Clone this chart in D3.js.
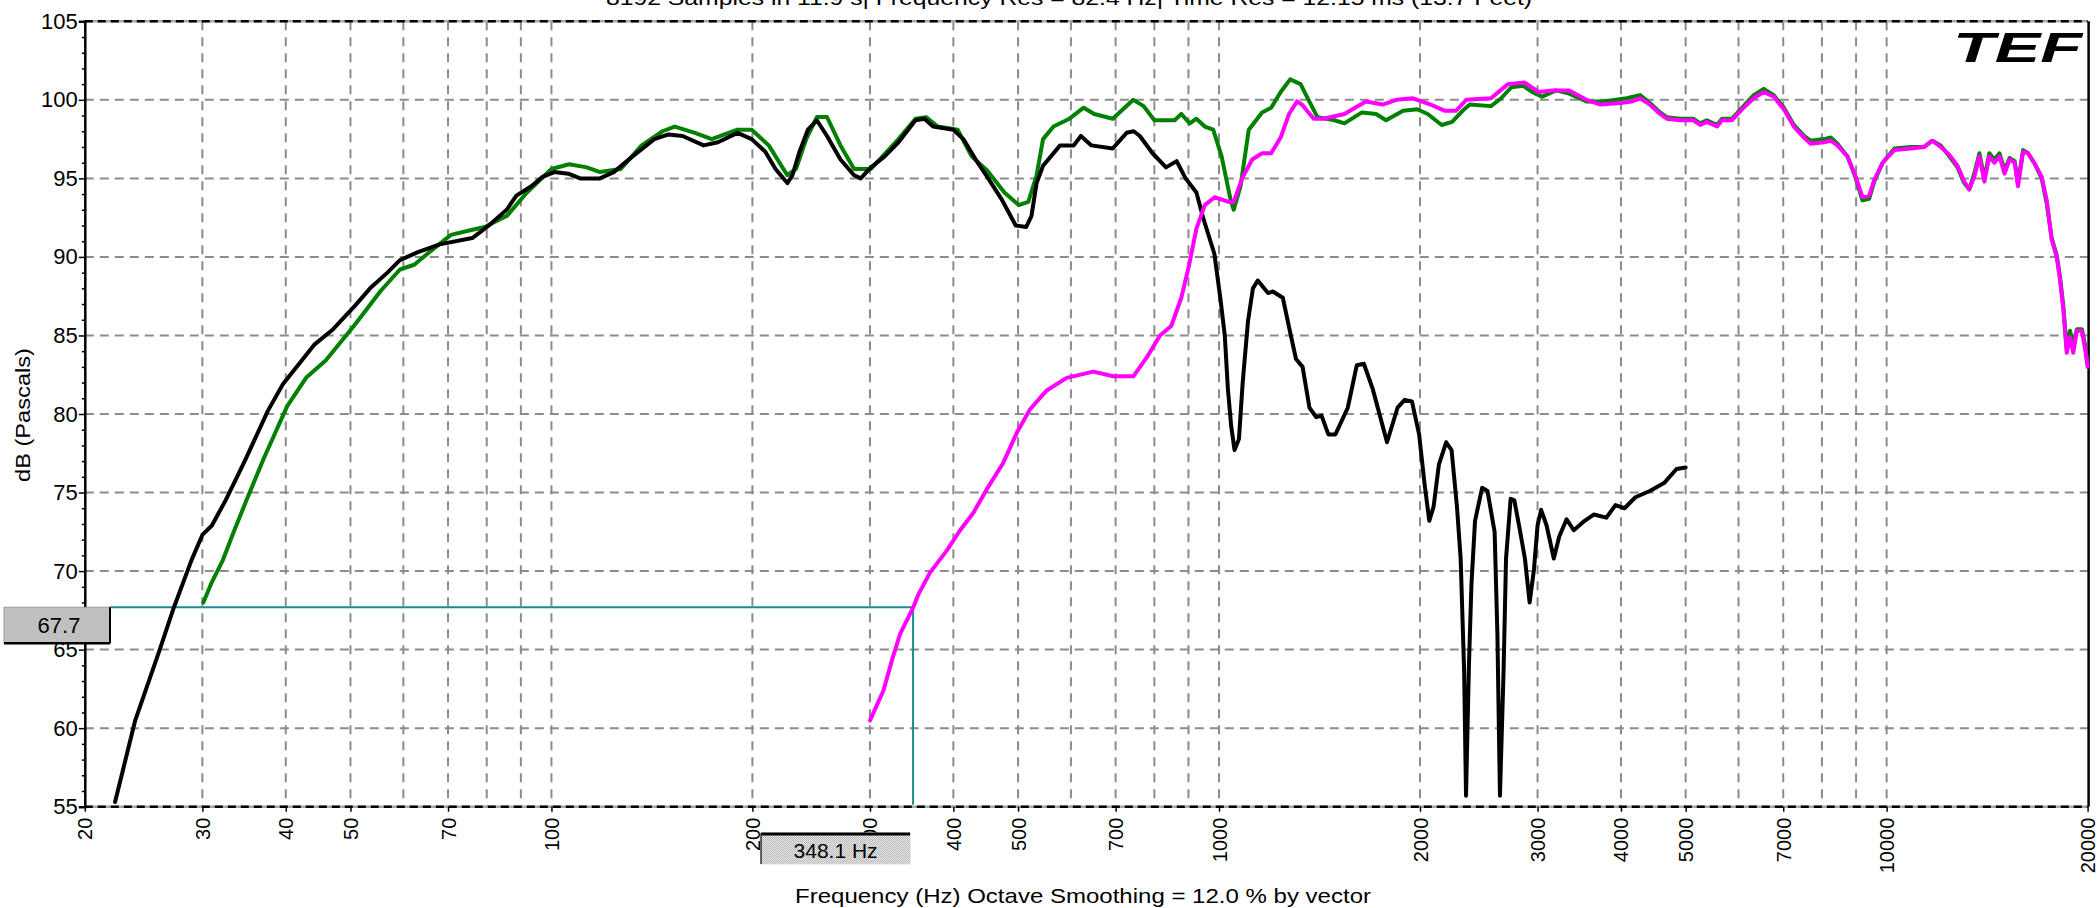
<!DOCTYPE html>
<html><head><meta charset="utf-8">
<script src="https://cdn.jsdelivr.net/npm/d3@7/dist/d3.min.js"></script>
<style>
body{margin:0;background:#fff;}
svg{display:block;}
text{font-family:"Liberation Sans",Arial,sans-serif;fill:#000;}
</style></head><body>
<svg id="c" width="2098" height="908"></svg>
<script>
// ---------- data ----------
const xTickValues=[20,30,40,50,70,100,200,300,400,500,700,1000,2000,3000,4000,5000,7000,10000,20000];
const xGridValues=[30,40,50,60,70,80,90,100,200,300,400,500,600,700,800,900,1000,2000,3000,4000,5000,6000,7000,8000,9000,10000];
const yTickValues=[55,60,65,70,75,80,85,90,95,100,105];
const yMinorValues=[56,57,58,59,61,62,63,64,66,67,68,69,71,72,73,74,76,77,78,79,81,82,83,84,86,87,88,89,91,92,93,94,96,97,98,99,101,102,103,104];

const blackFreq=[22.2,23.8,25.9,27.2,28.9,30,31,32.5,34,34.9,37.6,39.6,44.1,47.1,50.8,53.5,56.8,59.3,63.1,68,76.1,80.6,85.7,88.6,93.3,97,101,106,110.4,118.2,124,132.3,142.6,149.8,157.2,169,177.6,190,199.5,209.1,216.6,225.6,229.6,235.3,242.2,249.8,258.7,271,284,290.6,301,315.6,331,351,362,373,400,414,435,449.5,472,496,514,523.6,533,545,578,606,621,644,693,727,745,761,795,833,864,891,925,948,984,1005,1020,1031,1043,1055,1071,1085,1105,1124,1143,1184,1204,1246,1275,1304,1334,1366,1398,1424,1458,1494,1559,1608,1648,1699,1785,1851,1897,1945,1994,2031,2065,2096,2135,2189,2230,2272,2301,2329,2344,2368,2388,2418,2478,2524,2587,2612,2635,2668,2691,2734,2769,2820,2872,2919,2963,3000,3037,3095,3173,3233,3316,3399,3529,3641,3804,3925,4049,4204,4418,4641,4845,5000];
const blackDb=[55.3,60.5,65.0,67.7,70.7,72.3,72.9,74.5,76.2,77.2,80.2,81.9,84.4,85.4,86.9,88.0,89.0,89.8,90.3,90.8,91.2,92.0,93.0,93.9,94.5,95.1,95.4,95.3,95.0,95.0,95.4,96.4,97.5,97.8,97.7,97.1,97.3,97.9,97.5,96.7,95.6,94.7,95.2,96.7,98.1,98.7,97.7,96.2,95.2,95.0,95.7,96.4,97.3,98.7,98.8,98.3,98.1,97.5,96.0,95.1,93.7,92.0,91.9,92.6,94.7,95.8,97.1,97.1,97.7,97.1,96.9,97.9,98.0,97.7,96.6,95.7,96.1,95.0,94.1,92.4,90.2,87.3,85.0,81.6,79.2,77.7,78.4,82.0,85.9,88.0,88.5,87.7,87.8,87.4,85.4,83.5,83.0,80.4,79.8,79.9,78.7,78.7,80.4,83.1,83.2,81.6,78.2,80.4,80.9,80.8,78.7,75.6,73.2,74.1,76.8,78.2,77.7,74.1,70.8,63.6,55.7,64.1,69.1,73.2,75.3,75.1,72.5,66.0,55.7,63.6,70.8,74.6,74.5,72.7,70.8,68.0,70.1,72.9,73.9,72.9,70.8,72.2,73.3,72.6,73.2,73.6,73.4,74.2,74.0,74.7,75.1,75.6,76.5,76.6];

const greenFreq=[30.1,31,32.2,33.5,35,37.1,40.2,42.9,45.9,50.8,55.4,59.3,62.3,65.2,70.7,75.6,79.4,85.7,91.9,100,106.3,113,118.2,127,136.5,146.7,153,164,173.8,190,199.5,211.6,225.6,232.5,240.8,249.8,258.7,271,284,301,331,351,364,379,406,426,449.5,477,501,518,533,545,565,597,627,650,693,744,771,800,858,878,904,925,952,980,1009,1040,1052,1077,1108,1160,1197,1237,1278,1325,1365,1404,1489,1541,1637,1719,1779,1887,1981,2054,2155,2234,2316,2375,2555,2646,2740,2855,2942,3048,3195,3346,3551,3770,4079,4272,4420,4577,4685,4904,5133,5254,5378,5571,5668,5867,6105,6323,6545,6776,7016,7262,7519,7695,8058,8247,8440,8737,8991,9201,9416,9583,9865,10270,10870,11380,11710,12050,12410,12770,13070,13300,13530,13770,14010,14250,14500,14760,15020,15280,15550,15730,16010,16290,16680,17070,17370,17670,17980,18190,18400,18610,18820,19040,19270,19610,19840,20000];
const greenDb=[68.0,69.3,70.7,72.6,74.6,77.2,80.5,82.3,83.4,85.7,87.8,89.2,89.5,90.2,91.4,91.7,91.9,92.6,94.1,95.6,95.9,95.7,95.4,95.6,97.1,98.0,98.3,97.9,97.5,98.1,98.1,97.1,95.2,95.6,97.5,98.9,98.9,97.1,95.6,95.6,97.5,98.8,98.9,98.3,98.1,96.4,95.5,94.1,93.3,93.5,95.2,97.5,98.3,98.8,99.5,99.1,98.8,100.0,99.6,98.7,98.7,99.1,98.5,98.8,98.3,98.1,96.4,93.7,93.0,94.5,98.1,99.2,99.5,100.5,101.3,101.0,99.9,98.9,98.7,98.5,99.2,99.1,98.7,99.3,99.4,99.1,98.4,98.6,99.3,99.7,99.6,100.1,100.8,100.9,100.5,100.2,100.6,100.4,99.9,99.9,100.1,100.3,99.8,99.2,98.9,98.8,98.8,98.5,98.7,98.4,98.8,98.8,99.6,100.3,100.7,100.3,99.5,98.4,97.7,97.4,97.5,97.6,97.2,96.4,95.0,93.6,93.7,94.8,96.0,96.9,97.0,97.0,97.4,97.1,96.4,95.7,94.7,94.3,95.3,96.6,95.0,96.6,96.2,96.6,95.5,96.3,96.1,94.7,96.8,96.6,95.9,95.0,93.4,91.2,90.1,88.7,86.8,84.2,85.3,84.4,85.4,85.4,84.3,83.2];

const magentaFreq=[300.1,314.3,323.5,332.9,348.4,354.4,369,390.9,409.4,428.4,448.7,475.2,497.8,521.1,551.9,591.3,648.1,694.4,744.2,779.3,815.8,848,878,901,925,952,985,1034,1052,1083,1121,1160,1197,1237,1273,1309,1331,1386,1434,1541,1659,1759,1843,1952,2075,2181,2264,2346,2555,2708,2870,3012,3157,3346,3551,3726,3989,4155,4272,4420,4577,4685,4904,5133,5254,5378,5571,5668,5867,6105,6323,6545,6776,7016,7262,7519,7695,8058,8247,8440,8737,8991,9201,9416,9583,9865,10270,10870,11380,11710,12050,12410,12770,13070,13300,13530,13770,14010,14250,14500,14760,15020,15280,15550,15730,16010,16290,16680,17070,17370,17670,17980,18190,18400,18610,18820,19040,19270,19610,19840,20000];
const magentaDb=[60.5,62.4,64.3,66.0,67.7,68.5,69.9,71.3,72.6,73.7,75.2,76.9,78.8,80.3,81.5,82.3,82.7,82.4,82.4,83.6,85.0,85.6,87.4,89.4,91.8,93.3,93.8,93.5,93.5,95.0,96.2,96.6,96.6,97.6,99.1,99.9,99.7,98.8,98.8,99.1,99.9,99.7,100.0,100.1,99.7,99.3,99.3,100.0,100.1,101.0,101.1,100.5,100.6,100.6,100.0,99.7,99.8,99.9,100.1,99.7,99.1,98.8,98.7,98.7,98.4,98.6,98.3,98.7,98.7,99.5,100.1,100.5,100.2,99.4,98.3,97.6,97.2,97.3,97.4,97.1,96.4,95.1,93.8,93.9,94.9,96.0,96.8,96.9,97.0,97.4,97.0,96.5,95.8,94.8,94.3,95.1,96.4,94.8,96.4,96.0,96.4,95.3,96.2,96.0,94.5,96.7,96.6,95.9,95.1,93.6,91.1,90.0,88.5,86.6,83.9,84.9,83.9,85.3,85.3,84.1,83.0];

const cursorFreq=348.1;
const cursorDb=67.7;
const cursorFreqLabel="348.1 Hz";
const cursorDbLabel="67.7";
const titleText="8192 Samples in 11.9 s| Frequency Res = 82.4 Hz| Time Res = 12.15 ms (13.7 Feet)";
const xAxisTitle="Frequency (Hz) Octave Smoothing = 12.0 % by vector";
const yAxisTitle="dB (Pascals)";
const logoText="TEF";

// ---------- drawing ----------
const svg=d3.select("#c");
const L=84.8,R=2087.6,T=21.3,B=806.7;
const x=d3.scaleLog().domain([20,20000]).range([L,R]);
const y=d3.scaleLinear().domain([55,105]).range([B,T]);

const defs=svg.append("defs");
const pat=defs.append("pattern").attr("id","dither").attr("width",2).attr("height",2).attr("patternUnits","userSpaceOnUse");
pat.append("rect").attr("width",2).attr("height",2).attr("fill","#e8e8e8");
pat.append("rect").attr("width",1).attr("height",1).attr("fill","#b8b8b8");
pat.append("rect").attr("x",1).attr("y",1).attr("width",1).attr("height",1).attr("fill","#b8b8b8");

// grid
const grid=svg.append("g");
grid.selectAll("line.h").data(yTickValues.filter(v=>v>55&&v<105)).join("line")
  .attr("x1",L).attr("x2",R).attr("y1",d=>y(d)).attr("y2",d=>y(d))
  .attr("stroke","#8c8c8c").attr("stroke-width",2).attr("stroke-dasharray","9,6");
grid.selectAll("line.v").data(xGridValues).join("line")
  .attr("x1",d=>x(d)).attr("x2",d=>x(d)).attr("y1",T).attr("y2",B)
  .attr("stroke","#8c8c8c").attr("stroke-width",2).attr("stroke-dasharray","9,7");

// top & bottom borders
[105,55].forEach(v=>{
  svg.append("line").attr("x1",L).attr("x2",R).attr("y1",y(v)).attr("y2",y(v))
    .attr("stroke","#a8a8a8").attr("stroke-width",2.5);
  svg.append("line").attr("x1",L).attr("x2",R).attr("y1",y(v)).attr("y2",y(v))
    .attr("stroke","#000").attr("stroke-width",2.5).attr("stroke-dasharray","8,5");
});
svg.append("line").attr("x1",R+1).attr("x2",R+1).attr("y1",T).attr("y2",B)
  .attr("stroke","#000").attr("stroke-width",2.5);

// y axis
const yAxisG=svg.append("g").attr("transform",`translate(${L},0)`)
  .call(d3.axisLeft(y).tickValues(yTickValues).tickSize(6).tickPadding(1).tickFormat(d3.format("d")));
yAxisG.select(".domain").attr("stroke","#000").attr("stroke-width",2.5);
yAxisG.selectAll(".tick line").attr("stroke","#000").attr("stroke-width",1.5);
yAxisG.selectAll("text").attr("font-size",22).attr("font-family","Liberation Sans, Arial, sans-serif").attr("fill","#000");
const yMinorG=svg.append("g").attr("transform",`translate(${L},0)`)
  .call(d3.axisLeft(y).tickValues(yMinorValues).tickSize(3).tickFormat(""));
yMinorG.select(".domain").remove();
yMinorG.selectAll(".tick line").attr("stroke","#000").attr("stroke-width",1.5);

// x axis labels
const xAxisG=svg.append("g").attr("transform",`translate(0,${B})`)
  .call(d3.axisBottom(x).tickValues(xTickValues).tickSize(5).tickFormat(d3.format("d")));
xAxisG.select(".domain").remove();
xAxisG.selectAll(".tick line").attr("stroke","#000").attr("stroke-width",1.5);
xAxisG.selectAll("text")
  .attr("transform","rotate(-90)")
  .attr("x",-11).attr("y",0).attr("dy","0.35em")
  .attr("text-anchor","end")
  .attr("font-size",20).attr("font-family","Liberation Sans, Arial, sans-serif").attr("fill","#000");

// cursor lines
const cx=x(cursorFreq), cy=y(cursorDb);
svg.append("line").attr("x1",110).attr("x2",cx).attr("y1",cy).attr("y2",cy)
  .attr("stroke","#1b8b8b").attr("stroke-width",2);
svg.append("line").attr("x1",cx).attr("x2",cx).attr("y1",cy).attr("y2",B-2)
  .attr("stroke","#1b8b8b").attr("stroke-width",2);

// curves
const line=d3.line().x(d=>x(d[0])).y(d=>y(d[1])).curve(d3.curveLinear);
const series=[
  {f:greenFreq,v:greenDb,c:"#008000"},
  {f:blackFreq,v:blackDb,c:"#000000"},
  {f:magentaFreq,v:magentaDb,c:"#ff00ff"}
];
series.forEach(s=>{
  svg.append("path").datum(s.f.map((f,i)=>[f,s.v[i]]))
    .attr("d",line).attr("fill","none").attr("stroke",s.c)
    .attr("stroke-width",4).attr("stroke-linejoin","round").attr("stroke-linecap","round");
});

// dB readout box
const bx0=4,bx1=110,by0=cy,by1=cy+36;
svg.append("rect").attr("x",bx0).attr("y",by0).attr("width",bx1-bx0).attr("height",by1-by0)
  .attr("fill","#c0c0c0").attr("stroke","#9a9a9a").attr("stroke-width",1);
svg.append("line").attr("x1",bx0).attr("x2",bx1).attr("y1",by1).attr("y2",by1).attr("stroke","#000").attr("stroke-width",2.5);
svg.append("line").attr("x1",bx1).attr("x2",bx1).attr("y1",by0).attr("y2",by1).attr("stroke","#000").attr("stroke-width",2);
svg.append("text").attr("x",(bx0+bx1)/2+2).attr("y",(by0+by1)/2).attr("dy","0.36em")
  .attr("text-anchor","middle").attr("font-size",22).text(cursorDbLabel);

// frequency readout box
const fx1=cx-3,fx0=fx1-149,fy0=833,fy1=864;
svg.append("rect").attr("x",fx0).attr("y",fy0).attr("width",fx1-fx0).attr("height",fy1-fy0)
  .attr("fill","url(#dither)").attr("stroke","#d8d8d8").attr("stroke-width",1);
svg.append("line").attr("x1",fx0).attr("x2",fx1).attr("y1",fy0+1).attr("y2",fy0+1).attr("stroke","#000").attr("stroke-width",3);
svg.append("line").attr("x1",fx0).attr("x2",fx0).attr("y1",fy0).attr("y2",fy1).attr("stroke","#333").attr("stroke-width",1.5);
svg.append("text").attr("x",(fx0+fx1)/2).attr("y",(fy0+fy1)/2+2).attr("dy","0.36em")
  .attr("text-anchor","middle").attr("font-size",21).text(cursorFreqLabel);

// titles
svg.append("text").attr("x",606).attr("y",5).attr("font-size",21)
  .attr("textLength",926).attr("lengthAdjust","spacingAndGlyphs").text(titleText);
svg.append("text").attr("x",795).attr("y",903).attr("font-size",21)
  .attr("textLength",576).attr("lengthAdjust","spacingAndGlyphs").text(xAxisTitle);
svg.append("text").attr("transform","translate(22,415) rotate(-90)").attr("dy","0.36em")
  .attr("text-anchor","middle").attr("font-size",21)
  .attr("textLength",134).attr("lengthAdjust","spacingAndGlyphs").text(yAxisTitle);

// logo
svg.append("text").attr("x",1953).attr("y",62).attr("font-size",42)
  .attr("font-weight","900").attr("font-style","italic")
  .attr("textLength",129).attr("lengthAdjust","spacingAndGlyphs").text(logoText);
</script></body></html>
